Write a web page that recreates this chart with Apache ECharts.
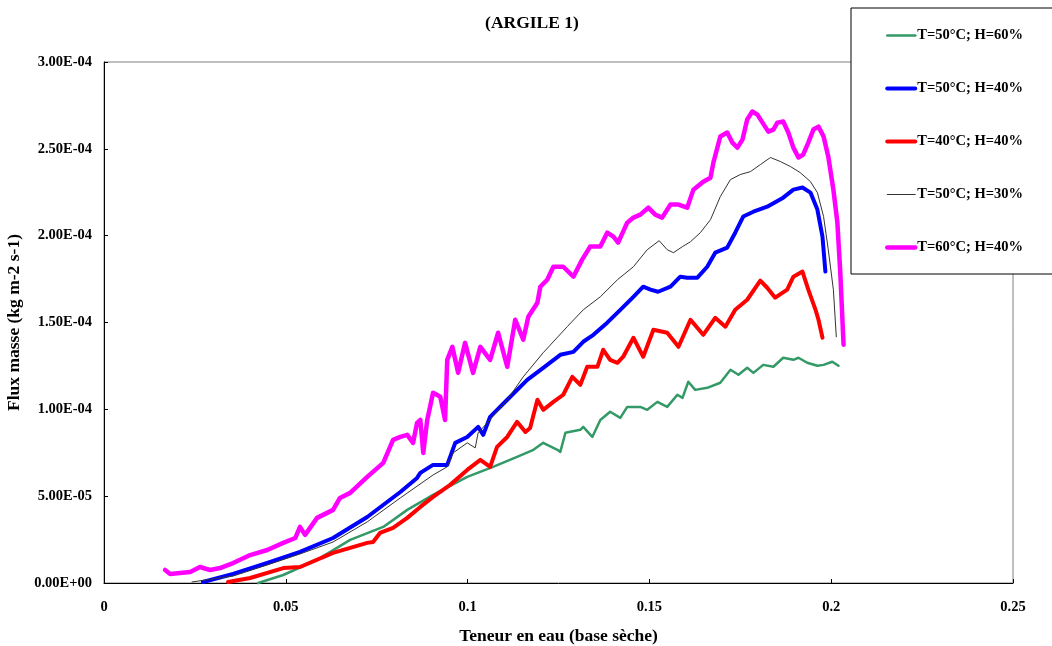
<!DOCTYPE html>
<html>
<head>
<meta charset="utf-8">
<script src="https://cdn.jsdelivr.net/npm/echarts@6/dist/echarts.min.js"></script>
<style>html,body{margin:0;padding:0;background:#fff;}#c{width:1052px;height:646px;}</style>
</head>
<body>
<div id="c"></div>
<script>
// ---- data ----
const seriesNames = ['T=50°C; H=60%', 'T=50°C; H=40%', 'T=40°C; H=40%', 'T=50°C; H=30%', 'T=60°C; H=40%'];
const xTickLabels = ['0', '0.05', '0.1', '0.15', '0.2', '0.25'];
const yTickLabels = ['0.00E+00', '5.00E-05', '1.00E-04', '1.50E-04', '2.00E-04', '2.50E-04', '3.00E-04'];

// T=50°C; H=60%
const green60X = [0.0424,0.0493,0.0586,0.0677,0.0768,0.0834,0.0905,0.0999,0.1070,0.1136,0.1181,0.1208,0.1247,0.1255,0.1269,0.1310,0.1318,0.1343,0.1365,0.1392,0.1420,0.1439,0.1475,0.1494,0.1522,0.1549,0.1577,0.1591,0.1607,0.1626,0.1659,0.1695,0.1723,0.1745,0.1769,0.1786,0.1813,0.1841,0.1868,0.1896,0.1910,0.1934,0.1962,0.1979,0.2003,0.2020];
const green60Y = [0.000e-4,0.046e-4,0.133e-4,0.248e-4,0.323e-4,0.421e-4,0.507e-4,0.611e-4,0.669e-4,0.726e-4,0.767e-4,0.807e-4,0.767e-4,0.755e-4,0.865e-4,0.882e-4,0.899e-4,0.841e-4,0.939e-4,0.986e-4,0.951e-4,1.014e-4,1.014e-4,0.997e-4,1.043e-4,1.014e-4,1.084e-4,1.066e-4,1.159e-4,1.112e-4,1.124e-4,1.153e-4,1.228e-4,1.199e-4,1.239e-4,1.210e-4,1.256e-4,1.245e-4,1.297e-4,1.285e-4,1.297e-4,1.268e-4,1.251e-4,1.256e-4,1.274e-4,1.251e-4];

// T=50°C; H=40%
const blue40X = [0.0272,0.0355,0.0449,0.0539,0.0630,0.0724,0.0815,0.0861,0.0870,0.0905,0.0944,0.0966,0.0999,0.1029,0.1043,0.1062,0.1109,0.1164,0.1208,0.1255,0.1291,0.1318,0.1346,0.1384,0.1420,0.1456,0.1483,0.1503,0.1524,0.1558,0.1585,0.1604,0.1632,0.1659,0.1681,0.1714,0.1736,0.1758,0.1786,0.1824,0.1868,0.1896,0.1921,0.1943,0.1962,0.1976,0.1984];
const blue40Y = [0.006e-4,0.052e-4,0.115e-4,0.179e-4,0.259e-4,0.380e-4,0.524e-4,0.605e-4,0.634e-4,0.680e-4,0.680e-4,0.807e-4,0.841e-4,0.899e-4,0.853e-4,0.957e-4,1.055e-4,1.170e-4,1.239e-4,1.314e-4,1.331e-4,1.389e-4,1.429e-4,1.499e-4,1.573e-4,1.648e-4,1.706e-4,1.689e-4,1.677e-4,1.706e-4,1.764e-4,1.758e-4,1.758e-4,1.821e-4,1.902e-4,1.931e-4,2.017e-4,2.110e-4,2.138e-4,2.167e-4,2.219e-4,2.265e-4,2.277e-4,2.248e-4,2.150e-4,1.994e-4,1.793e-4];

// T=40°C; H=40%
const red40X = [0.0341,0.0402,0.0493,0.0539,0.0630,0.0724,0.0740,0.0759,0.0795,0.0834,0.0870,0.0905,0.0952,0.0999,0.1035,0.1062,0.1081,0.1109,0.1136,0.1159,0.1172,0.1192,0.1208,0.1236,0.1263,0.1288,0.1310,0.1329,0.1357,0.1373,0.1392,0.1412,0.1428,0.1456,0.1483,0.1511,0.1549,0.1580,0.1613,0.1648,0.1681,0.1709,0.1736,0.1769,0.1805,0.1824,0.1846,0.1879,0.1896,0.1921,0.1937,0.1957,0.1965,0.1976];
const red40Y = [0.006e-4,0.029e-4,0.086e-4,0.092e-4,0.173e-4,0.231e-4,0.236e-4,0.288e-4,0.317e-4,0.375e-4,0.438e-4,0.496e-4,0.565e-4,0.651e-4,0.709e-4,0.669e-4,0.784e-4,0.841e-4,0.928e-4,0.870e-4,0.893e-4,1.055e-4,0.997e-4,1.043e-4,1.084e-4,1.187e-4,1.141e-4,1.245e-4,1.245e-4,1.343e-4,1.285e-4,1.268e-4,1.303e-4,1.412e-4,1.303e-4,1.458e-4,1.441e-4,1.360e-4,1.516e-4,1.429e-4,1.527e-4,1.476e-4,1.573e-4,1.631e-4,1.741e-4,1.700e-4,1.643e-4,1.689e-4,1.764e-4,1.793e-4,1.689e-4,1.573e-4,1.516e-4,1.412e-4];

// T=50°C; H=30%
const black30X = [0.0242,0.0355,0.0449,0.0539,0.0630,0.0724,0.0815,0.0905,0.0944,0.0960,0.0999,0.1021,0.1029,0.1054,0.1109,0.1153,0.1208,0.1274,0.1318,0.1365,0.1412,0.1456,0.1494,0.1527,0.1549,0.1566,0.1591,0.1613,0.1640,0.1668,0.1695,0.1723,0.1750,0.1778,0.1805,0.1833,0.1860,0.1888,0.1915,0.1943,0.1962,0.1979,0.1992,0.2006,0.2014];
const black30Y = [0.006e-4,0.040e-4,0.104e-4,0.167e-4,0.236e-4,0.352e-4,0.490e-4,0.622e-4,0.669e-4,0.749e-4,0.807e-4,0.778e-4,0.865e-4,0.922e-4,1.055e-4,1.187e-4,1.326e-4,1.476e-4,1.573e-4,1.648e-4,1.746e-4,1.821e-4,1.919e-4,1.971e-4,1.919e-4,1.902e-4,1.937e-4,1.965e-4,2.017e-4,2.092e-4,2.225e-4,2.323e-4,2.352e-4,2.369e-4,2.409e-4,2.450e-4,2.427e-4,2.398e-4,2.363e-4,2.311e-4,2.248e-4,2.110e-4,1.919e-4,1.689e-4,1.418e-4];

// T=60°C; H=40%
const magenta40X = [0.0168,0.0182,0.0209,0.0237,0.0264,0.0292,0.0319,0.0355,0.0402,0.0449,0.0493,0.0526,0.0539,0.0553,0.0586,0.0630,0.0649,0.0677,0.0724,0.0768,0.0795,0.0815,0.0834,0.0850,0.0861,0.0870,0.0878,0.0889,0.0905,0.0925,0.0938,0.0944,0.0958,0.0974,0.0993,0.1015,0.1035,0.1062,0.1084,0.1109,0.1131,0.1153,0.1167,0.1192,0.1200,0.1219,0.1236,0.1263,0.1291,0.1315,0.1337,0.1365,0.1384,0.1401,0.1414,0.1439,0.1456,0.1475,0.1497,0.1516,0.1535,0.1558,0.1580,0.1604,0.1621,0.1648,0.1668,0.1676,0.1695,0.1714,0.1728,0.1742,0.1756,0.1769,0.1783,0.1797,0.1811,0.1827,0.1841,0.1852,0.1868,0.1882,0.1896,0.1910,0.1923,0.1937,0.1951,0.1965,0.1979,0.1992,0.2006,0.2017,0.2025,0.2034];
const magenta40Y = [0.075e-4,0.052e-4,0.058e-4,0.063e-4,0.092e-4,0.075e-4,0.086e-4,0.115e-4,0.161e-4,0.190e-4,0.231e-4,0.259e-4,0.323e-4,0.277e-4,0.375e-4,0.421e-4,0.490e-4,0.519e-4,0.611e-4,0.692e-4,0.824e-4,0.841e-4,0.853e-4,0.807e-4,0.922e-4,0.939e-4,0.749e-4,0.939e-4,1.095e-4,1.072e-4,0.939e-4,1.285e-4,1.360e-4,1.210e-4,1.383e-4,1.210e-4,1.360e-4,1.285e-4,1.441e-4,1.245e-4,1.516e-4,1.401e-4,1.533e-4,1.614e-4,1.706e-4,1.746e-4,1.821e-4,1.821e-4,1.764e-4,1.862e-4,1.937e-4,1.937e-4,2.017e-4,1.994e-4,1.960e-4,2.075e-4,2.104e-4,2.121e-4,2.161e-4,2.121e-4,2.104e-4,2.179e-4,2.179e-4,2.161e-4,2.265e-4,2.311e-4,2.334e-4,2.421e-4,2.571e-4,2.594e-4,2.536e-4,2.507e-4,2.553e-4,2.669e-4,2.715e-4,2.697e-4,2.651e-4,2.599e-4,2.611e-4,2.651e-4,2.657e-4,2.594e-4,2.507e-4,2.450e-4,2.467e-4,2.536e-4,2.611e-4,2.628e-4,2.571e-4,2.455e-4,2.265e-4,2.075e-4,1.787e-4,1.372e-4];

// ---- chart ----
const FONT = '"Liberation Serif", "Times New Roman", serif';
function zip(xs, ys) { return xs.map((x, i) => [x, ys[i]]); }

const seriesDefs = [
  { name: seriesNames[0], xs: green60X, ys: green60Y, color: '#339966', width: 2.5 },
  { name: seriesNames[1], xs: blue40X, ys: blue40Y, color: '#0000FF', width: 4 },
  { name: seriesNames[2], xs: red40X, ys: red40Y, color: '#FF0000', width: 4 },
  { name: seriesNames[3], xs: black30X, ys: black30Y, color: '#333333', width: 1 },
  { name: seriesNames[4], xs: magenta40X, ys: magenta40Y, color: '#FF00FF', width: 4.5 }
];

const chart = echarts.init(document.getElementById('c'), null, { renderer: 'canvas' });
chart.setOption({
  animation: false,
  backgroundColor: '#ffffff',
  title: {
    text: '(ARGILE 1)',
    left: 527, top: 9, textAlign: 'center',
    textStyle: { fontFamily: FONT, fontWeight: 'bold', fontSize: 17.5, color: '#000' }
  },
  grid: {
    left: 104, right: 39, top: 62, bottom: 63,
    containLabel: false, outerBoundsMode: 'none',
    show: true, borderColor: '#808080', borderWidth: 1, backgroundColor: 'transparent'
  },
  legend: {
    orient: 'vertical',
    left: 851, top: 8,
    padding: [20, 40, 19, 34],
    itemGap: 38,
    itemWidth: 28, itemHeight: 14,
    backgroundColor: '#ffffff',
    borderColor: '#000000', borderWidth: 1,
    itemStyle: { opacity: 0 },
    textStyle: { fontFamily: FONT, fontWeight: 'bold', fontSize: 14.5, lineHeight: 14, color: '#000', padding: [0, 0, 0, -3] },
    data: seriesDefs.map(s => ({
      name: s.name,
      lineStyle: { color: s.color, width: s.width, cap: 'round' }
    }))
  },
  xAxis: {
    type: 'value', min: 0, max: 0.25, interval: 0.05,
    name: 'Teneur en eau (base sèche)',
    nameLocation: 'middle', nameGap: 44,
    nameTextStyle: { fontFamily: FONT, fontWeight: 'bold', fontSize: 17.5, color: '#000' },
    axisLine: { show: true, onZero: false, lineStyle: { color: '#000', width: 1 } },
    axisTick: { show: true, inside: true, length: 4, lineStyle: { color: '#000' } },
    axisLabel: {
      fontFamily: FONT, fontWeight: 'bold', fontSize: 14.5, color: '#000', margin: 17,
      formatter: function (v) { return xTickLabels[Math.round(v / 0.05)]; }
    },
    splitLine: { show: false }
  },
  yAxis: {
    type: 'value', min: 0, max: 3e-4, interval: 5e-5,
    name: 'Flux masse (kg m-2 s-1)',
    nameLocation: 'middle', nameGap: 77, nameRotate: 90,
    nameTextStyle: { fontFamily: FONT, fontWeight: 'bold', fontSize: 17.5, color: '#000' },
    axisLine: { show: true, onZero: false, lineStyle: { color: '#000', width: 1 } },
    axisTick: { show: true, inside: true, length: 4, lineStyle: { color: '#000' } },
    axisLabel: {
      fontFamily: FONT, fontWeight: 'bold', fontSize: 14.5, color: '#000', margin: 12,
      formatter: function (v) { return yTickLabels[Math.round(v / 5e-5)]; }
    },
    splitLine: { show: false }
  },
  series: seriesDefs.map(s => ({
    name: s.name,
    type: 'line',
    data: zip(s.xs, s.ys),
    showSymbol: false,
    symbol: 'none',
    smooth: false,
    clip: false,
    lineStyle: { color: s.color, width: s.width, join: 'round', cap: 'round' },
    itemStyle: { color: s.color },
    emphasis: { disabled: true }
  }))
});
</script>
</body>
</html>
